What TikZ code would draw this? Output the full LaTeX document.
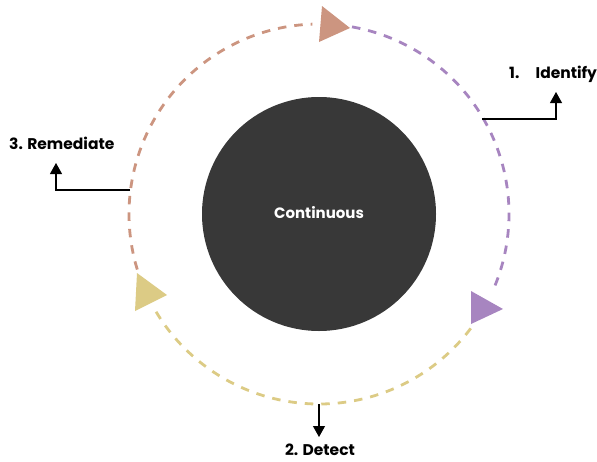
\documentclass[tikz,border=0pt]{standalone}
\usepackage{fontspec}
\setmainfont{Poppins}
\usetikzlibrary{arrows.meta,calc}
\definecolor{cbrown}{HTML}{CC9580}
\definecolor{cpurple}{HTML}{A785C0}
\definecolor{cyellow}{HTML}{DCCB85}
\definecolor{cdark}{HTML}{383838}
\tikzset{
  ring/.style={line width=2.8pt, dash pattern=on 8.5pt off 8pt},
  label/.style={font=\bfseries\fontsize{15.5}{18}\selectfont, inner sep=0pt, text=black},
  leader/.style={line width=1.1pt, -{Triangle[length=11pt,width=12pt]}},
}
\begin{document}
\begin{tikzpicture}[x=1pt,y=-1pt]
  \useasboundingbox (0,0) rectangle (597,461);
  \coordinate (c) at (319,214);

  % central disc
  \fill[cdark] (c) circle[radius=117];
  \node[font=\bfseries\fontsize{15}{18}\selectfont, text=white] (core) at (319,213) {Continuous};

  % dashed cycle, three coloured arcs (angles measured with y pointing down)
  \draw[ring, cbrown]  ($(c)+(-197:190)$) arc[start angle=-197, end angle=-92, radius=190];
  \draw[ring, cpurple] ($(c)+(-80:190)$) arc[start angle=-80, end angle=24, radius=190];
  \draw[ring, cyellow] ($(c)+(37:190)$) arc[start angle=37, end angle=150, radius=190];

  % triangular heads on the cycle
  \fill[cbrown]  (322,6) -- (350,28) -- (319,42) -- cycle;
  \fill[cpurple] (471,291) -- (503,309) -- (471,324) -- cycle;
  \fill[cyellow] (137,273) -- (167,295) -- (135,311) -- cycle;

  % leader anchors on the ring
  \coordinate (pI) at (482,119);
  \coordinate (pR) at (130,190);
  \coordinate (pD) at (319,404);
  \coordinate (tI) at (556,92);
  \coordinate (tR) at (56,163);
  \coordinate (tD) at (319,437);

  \draw[leader] (pI) -| (tI);
  \draw[leader] (pR) -| (tR);
  \draw[leader] (pD) -- (tD);

  % step labels
  \node[label, anchor=west] (lI) at (509,74) {1.\hspace{1.05em}Identify};
  \node[label, anchor=west] (lR) at (9,143) {3. Remediate};
  \node[label] (lD) at (320,450) {2. Detect};
\end{tikzpicture}
\end{document}
